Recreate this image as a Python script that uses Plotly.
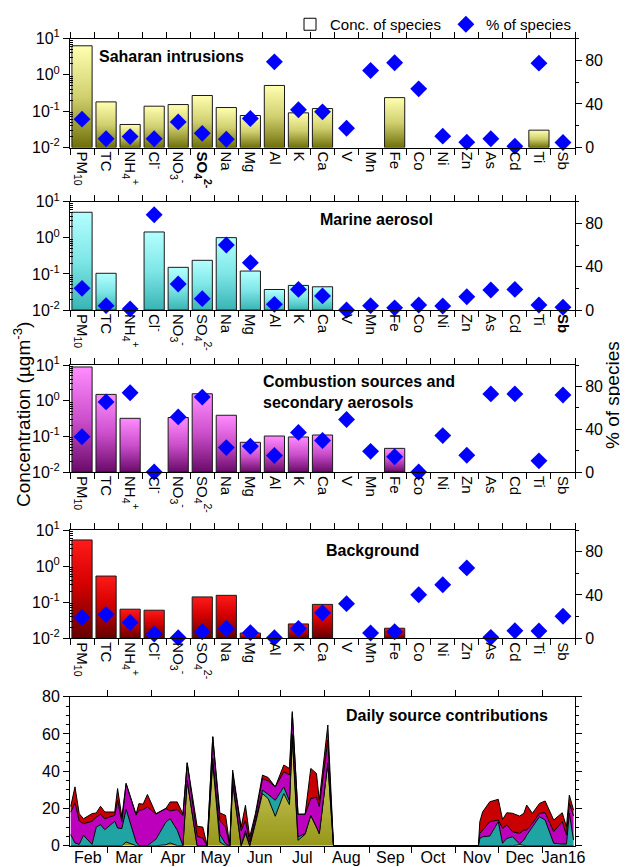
import plotly.graph_objects as go
from datetime import date

# ---------------- DATA ----------------
species_p1 = ["PM<sub>10</sub>", "TC", "NH<sub>4</sub><sup>+</sup>", "Cl<sup>-</sup>", "NO<sub>3</sub><sup>-</sup>",
              "<b>SO<sub>4</sub><sup>2-</sup></b>", "Na", "Mg", "Al", "K", "Ca", "V", "Mn", "Fe", "Co",
              "Ni", "Zn", "As", "Cd", "Ti", "Sb"]
species_p2 = ["PM<sub>10</sub>", "TC", "NH<sub>4</sub><sup>+</sup>", "Cl<sup>-</sup>", "NO<sub>3</sub><sup>-</sup>",
              "SO<sub>4</sub><sup>2-</sup>", "Na", "Mg", "Al", "K", "Ca", "V", "Mn", "Fe", "Co",
              "Ni", "Zn", "As", "Cd", "Ti", "<b>Sb</b>"]
species = ["PM<sub>10</sub>", "TC", "NH<sub>4</sub><sup>+</sup>", "Cl<sup>-</sup>", "NO<sub>3</sub><sup>-</sup>",
           "SO<sub>4</sub><sup>2-</sup>", "Na", "Mg", "Al", "K", "Ca", "V", "Mn", "Fe", "Co",
           "Ni", "Zn", "As", "Cd", "Ti", "Sb"]

# Concentration (ug m-3), None = no bar
saharan_conc = [6.3, 0.18, 0.043, 0.137, 0.152, 0.27, 0.126, 0.076, 0.51, 0.09, 0.118,
                None, None, 0.236, None, None, None, None, None, 0.030, None]
saharan_pct = [26, 8, 10, 8, 23.5, 13, 7.6, 26.6, 78.6, 34.6, 32.7,
               17.7, 70.6, 77.7, 53.8, 10.4, 4.9, 8, 1.2, 77.4, 4.6]

marine_conc = [5.1, 0.104, None, 1.45, 0.152, 0.238, 1.01, 0.12, 0.037, 0.048, 0.044,
               None, None, None, None, None, None, None, None, None, None]
marine_pct = [20, 4, 1, 88, 24, 10.5, 60, 43.7, 5.2, 19, 13,
              0, 4, 2, 4.6, 3.7, 12.3, 18.5, 19, 4.6, 2.5]

combustion_conc = [8.8, 1.5, 0.32, None, 0.337, 1.56, 0.39, 0.068, 0.102, 0.096, 0.109,
                   None, None, 0.046, None, None, None, None, None, None, None]
combustion_pct = [33, 65.5, 74, 0, 51.5, 70, 22.8, 24, 15.4, 37, 29.5,
                  49, 19.3, 14.2, 0, 34, 15.7, 73, 73, 10.4, 72]

background_conc = [5.3, 0.53, 0.064, 0.060, None, 0.14, 0.155, 0.014, None, 0.025, 0.087,
                   None, None, 0.019, None, None, None, None, None, None, None]
background_pct = [19.2, 22, 14.6, 4, 0.6, 6, 9, 5.2, 0.6, 9, 23.5,
                  32, 4.9, 6, 40.2, 49.4, 65, 0.9, 7, 6.7, 20.4]

panel_titles = ["Saharan intrusions", "Marine aerosol",
                "Combustion sources and<br>secondary aerosols", "Background",
                "Daily source contributions"]

# Daily source contributions (ug m-3)
daily_dates = ["2015-02-03", "2015-02-06", "2015-02-09", "2015-02-12", "2015-02-18", "2015-02-21",
               "2015-02-24", "2015-02-27", "2015-03-06", "2015-03-08", "2015-03-11", "2015-03-14",
               "2015-03-21", "2015-03-23", "2015-03-26", "2015-03-29", "2015-04-04", "2015-04-11",
               "2015-04-14", "2015-04-19", "2015-04-23", "2015-04-26", "2015-05-03", "2015-05-07",
               "2015-05-10", "2015-05-14", "2015-05-19", "2015-05-23", "2015-05-26", "2015-05-28",
               "2015-06-03", "2015-06-06", "2015-06-09", "2015-06-13", "2015-06-18", "2015-06-22",
               "2015-06-27", "2015-07-03", "2015-07-07", "2015-07-09", "2015-07-13", "2015-07-18",
               "2015-07-22", "2015-07-26", "2015-07-28", "2015-08-03", "2015-08-07", "2015-11-17",
               "2015-11-18", "2015-11-20", "2015-11-25", "2015-12-01", "2015-12-04", "2015-12-07",
               "2015-12-11", "2015-12-16", "2015-12-19", "2015-12-21", "2015-12-25", "2015-12-30",
               "2016-01-03", "2016-01-09", "2016-01-15", "2016-01-18", "2016-01-20", "2016-01-23"]
daily_saharan = [0, 0, 0, 0, 0, 0, 0, 0, 0, 0, 0, 2,
                 0, 0, 0, 0, 0, 0.5, 1.5, 0, 0, 35, 0, 0,
                 0, 44, 2, 0, 0, 33, 0, 6.5, 0, 11.8, 28, 25.3,
                 15.8, 28, 22, 56.7, 2.9, 6.1, 16.3, 10, 6.5, 44, 0, 0,
                 0, 0, 0, 0, 0, 0, 0, 0.5, 0, 0, 0, 0,
                 0, 0, 0, 0, 0, 0]
daily_marine = [6, 1.5, 0.7, 5.6, 0.7, 10, 11.3, 8.6, 13.1, 9.5, 9.2, 17.6,
                2, 0, 0, 0, 3.5, 12.2, 13, 8.3, 0, 0, 0, 0,
                0, 3, 4.1, 1, 0, 2, 0, 1.5, 0, 0.9, 1.8, 2.3,
                8.6, 3.6, 2, 3.3, 1.8, 0.4, 0, 0, 0, 0.5, 0, 0,
                3.9, 4.8, 5.2, 12.9, 1.3, 3.9, 4.8, 0.4, 3, 5.7, 10.2, 15.6,
                13.8, 1.3, 0.9, 0.9, 17.4, 3]
daily_combustion = [12, 21.5, 12.6, 6.2, 12.4, 5.3, 5.6, 5.9, 3.2, 14.9, 3.5, 13.8,
                    14.4, 19, 19.4, 20.8, 13.4, 7.3, 4.2, 11.1, 16.2, 9.5, 5, 4,
                    0, 11.5, 7.5, 9, 0, 4, 8, 5.6, 2, 2.7, 6.2, 7.2,
                    7.2, 8.1, 14, 11, 12.2, 10.4, 9, 16, 14.5, 12.2, 0, 0,
                    2.7, 3.6, 7.7, 0.9, 8, 7.2, 2.7, 5.7, 5.4, 2.7, 1.8, 1.8,
                    3.9, 6.2, 12, 4.8, 5.3, 13]
daily_background = [3, 8.6, 3.9, 2.7, 4.1, 2.3, 4.3, 3.6, 1.8, 6.3, 2.7, 0,
                    0.5, 3.6, 2.9, 6.7, 0.3, 0, 4.8, 4.1, 0.8, 0, 5.4, 6,
                    0, 0, 4, 6.3, 0, 1.6, 2, 8.1, 2.7, 1.8, 1.9, 1.8,
                    0, 3.6, 3.5, 1, 0, 0, 16.2, 12.8, 3.4, 8.1, 0, 0,
                    6.3, 9.8, 10.7, 11.1, 4.8, 6.6, 9.9, 9.3, 9, 13.4, 5.4, 5.3,
                    6.3, 6.3, 4.8, 4.5, 4.5, 3.1]

month_labels = ["Feb", "Mar", "Apr", "May", "Jun", "Jul", "Aug", "Sep", "Oct", "Nov", "Dec", "Jan16"]

# ---------------- STYLE / LAYOUT ----------------
FONT = "Liberation Sans, Arial, Helvetica, sans-serif"
PAGE_OFF = 8                      # default body margin of the html page
W, H = 628 - PAGE_OFF, 867 - PAGE_OFF
ML, MR = 70 - PAGE_OFF, 53
LOG_MIN = 1e-2
HW = 0.42
BLUE = "#0000FF"

cs_sah = [[0, "#70700A"], [0.5, "#D0D070"], [1, "#FFFFB0"]]
cs_mar = [[0, "#38B4B4"], [0.5, "#7EE6E6"], [1, "#B4FFFF"]]
cs_com = [[0, "#6A0A6A"], [0.5, "#CC4FCC"], [1, "#FF8CFF"]]
cs_bkg = [[0, "#640000"], [0.55, "#D40000"], [1, "#FF1A1A"]]


def py(px):
    """page pixel (y) -> paper fraction"""
    return 1 - (px - PAGE_OFF) / H


def pxx(px):
    """page pixel (x) -> paper fraction of plot width"""
    return (px - PAGE_OFF - ML) / (W - ML - MR)


panel_px = [(38.5, 147.5), (201.7, 310.0), (365.0, 472.0), (530.0, 638.3)]
panels = [
    dict(conc=saharan_conc, pct=saharan_pct, cs=cs_sah, labels=species_p1),
    dict(conc=marine_conc, pct=marine_pct, cs=cs_mar, labels=species_p2),
    dict(conc=combustion_conc, pct=combustion_pct, cs=cs_com, labels=species),
    dict(conc=background_conc, pct=background_pct, cs=cs_bkg, labels=species),
]
n = len(species)

fig = go.Figure()

# legend entry for bars
fig.add_trace(go.Bar(x=[None], y=[None], name="Conc. of species",
                     marker=dict(color="white", line=dict(color="black", width=1)),
                     xaxis="x", yaxis="y", showlegend=True))

layout = {}
minor_log = [m * 10 ** e for e in (-2, -1, 0) for m in range(2, 10)]

for k, p in enumerate(panels):
    xa = "x" if k == 0 else f"x{k + 1}"
    yl = "y" if k == 0 else f"y{2 * k + 1}"
    yr = f"y{2 * k + 2}"
    for i, v in enumerate(p["conc"]):
        if v is None:
            continue
        fig.add_trace(go.Scatter(
            x=[i - HW, i - HW, i + HW, i + HW, i - HW],
            y=[LOG_MIN, v, v, LOG_MIN, LOG_MIN],
            mode="lines", fill="toself",
            fillgradient=dict(type="vertical", colorscale=p["cs"]),
            line=dict(color="#1a1a1a", width=1),
            xaxis=xa, yaxis=yl, showlegend=False, hoverinfo="skip"))
    fig.add_trace(go.Scatter(
        x=list(range(n)), y=p["pct"], mode="markers",
        marker=dict(symbol="diamond", size=13, color=BLUE),
        xaxis=xa, yaxis=yr, cliponaxis=False,
        showlegend=(k == 0), name="% of species"))

    top, bot = panel_px[k]
    xkey = "xaxis" if k == 0 else f"xaxis{k + 1}"
    ylkey = "yaxis" if k == 0 else f"yaxis{2 * k + 1}"
    yrkey = f"yaxis{2 * k + 2}"
    layout[xkey] = dict(domain=[0, 1], anchor=yl, range=[-0.5, n - 0.5],
                        tickmode="array", tickvals=list(range(n)), ticktext=p["labels"],
                        tickangle=90, ticks="", showline=True, linecolor="black", linewidth=1,
                        mirror="allticks", zeroline=False, showgrid=False,
                        minor=dict(tick0=0.5, dtick=1, ticks="outside", ticklen=6,
                                   tickcolor="black", showgrid=False),
                        tickfont=dict(size=15, color="black"))
    layout[ylkey] = dict(domain=[py(bot), py(top)], anchor=xa, type="log", range=[-2, 1],
                         tickmode="array", tickvals=[0.01, 0.1, 1, 10],
                         ticktext=["10<sup>-2</sup>", "10<sup>-1</sup>", "10<sup>0</sup>", "10<sup>1</sup>"],
                         ticks="outside", ticklen=6, tickcolor="black",
                         minor=dict(tickmode="array", tickvals=minor_log, ticks="inside", ticklen=3,
                                    tickcolor="black", showgrid=False),
                         showline=True, linecolor="black", linewidth=1, showgrid=False, zeroline=False,
                         tickfont=dict(size=16, color="black"))
    layout[yrkey] = dict(overlaying=yl, side="right", anchor=xa, range=[0, 100],
                         tickmode="array", tickvals=[0, 40, 80], ticks="outside", ticklen=6,
                         tickcolor="black",
                         minor=dict(tick0=0, dtick=20, ticks="outside", ticklen=3, tickcolor="black",
                                    showgrid=False),
                         showline=True, linecolor="black", linewidth=1, showgrid=False, zeroline=False,
                         tickfont=dict(size=16, color="black"))

# ---- bottom panel: stacked daily contributions ----
stack = [("Saharan intrusions", daily_saharan, None),
         ("Marine aerosol", daily_marine, "#1FA3A3"),
         ("Combustion", daily_combustion, "#BC00BC"),
         ("Background", daily_background, "#C80000")]
for name, vals, col in stack:
    kw = dict(fillcolor=col) if col else dict(
        fillgradient=dict(type="vertical", colorscale=[[0, "#96961A"], [1, "#DCDC74"]]))
    fig.add_trace(go.Scatter(x=daily_dates, y=vals, stackgroup="daily", mode="lines",
                             line=dict(color="black", width=1), name=name,
                             xaxis="x5", yaxis="y9", showlegend=False, hoverinfo="skip", **kw))

month_starts = [date(2015, m, 1) for m in range(2, 13)] + [date(2016, 1, 1), date(2016, 2, 1)]
mid_months = [(a + (b - a) / 2).isoformat() for a, b in zip(month_starts[:-1], month_starts[1:])]

layout["xaxis5"] = dict(domain=[0, 1], anchor="y9", type="date",
                        range=["2015-02-02 12:00", "2016-01-24"],
                        tickmode="array", tickvals=mid_months, ticktext=month_labels,
                        ticks="", ticklabelstandoff=-3,
                        showline=True, linecolor="black", linewidth=1, mirror="allticks",
                        minor=dict(dtick="M1", tick0="2015-02-01", ticks="outside", ticklen=6,
                                   tickcolor="black", showgrid=False),
                        showgrid=False, zeroline=False, tickfont=dict(size=16, color="black"))
layout["yaxis9"] = dict(domain=[py(845.7), py(696.7)], anchor="x5", range=[0, 80], dtick=20,
                        ticks="outside", ticklen=6, tickcolor="black",
                        minor=dict(dtick=5, ticks="outside", ticklen=3, tickcolor="black", showgrid=False),
                        showline=True, linecolor="black", linewidth=1, mirror="allticks",
                        showgrid=False, zeroline=False, tickfont=dict(size=16, color="black"))

# ---- annotations ----
title_pos = [(97, 57), (318, 220), (261, 392), (324, 550), (344, 715)]
annotations = []
for t, (x, y) in zip(panel_titles, title_pos):
    annotations.append(dict(text=f"<b>{t}</b>", x=pxx(x), y=py(y), xref="paper", yref="paper",
                            xanchor="left", yanchor="middle", align="left", showarrow=False,
                            font=dict(size=16, color="black")))
annotations.append(dict(text="Concentration (µgm<sup>-3</sup>)", x=pxx(22), y=py(415),
                        xref="paper", yref="paper", textangle=-90, showarrow=False,
                        xanchor="center", yanchor="middle", font=dict(size=19, color="black")))
annotations.append(dict(text="% of species", x=pxx(613), y=py(395),
                        xref="paper", yref="paper", textangle=-90, showarrow=False,
                        xanchor="center", yanchor="middle", font=dict(size=19, color="black")))

fig.update_layout(
    width=W, height=H, template="none",
    margin=dict(l=ML, r=MR, t=0, b=0, autoexpand=False),
    paper_bgcolor="white", plot_bgcolor="white",
    font=dict(family=FONT, color="black"),
    showlegend=True,
    legend=dict(orientation="h", x=pxx(290), xanchor="left", y=py(8), yanchor="top",
                font=dict(size=15), bgcolor="rgba(0,0,0,0)", traceorder="normal"),
    annotations=annotations,
    **layout,
)

fig.write_html("out.html")
